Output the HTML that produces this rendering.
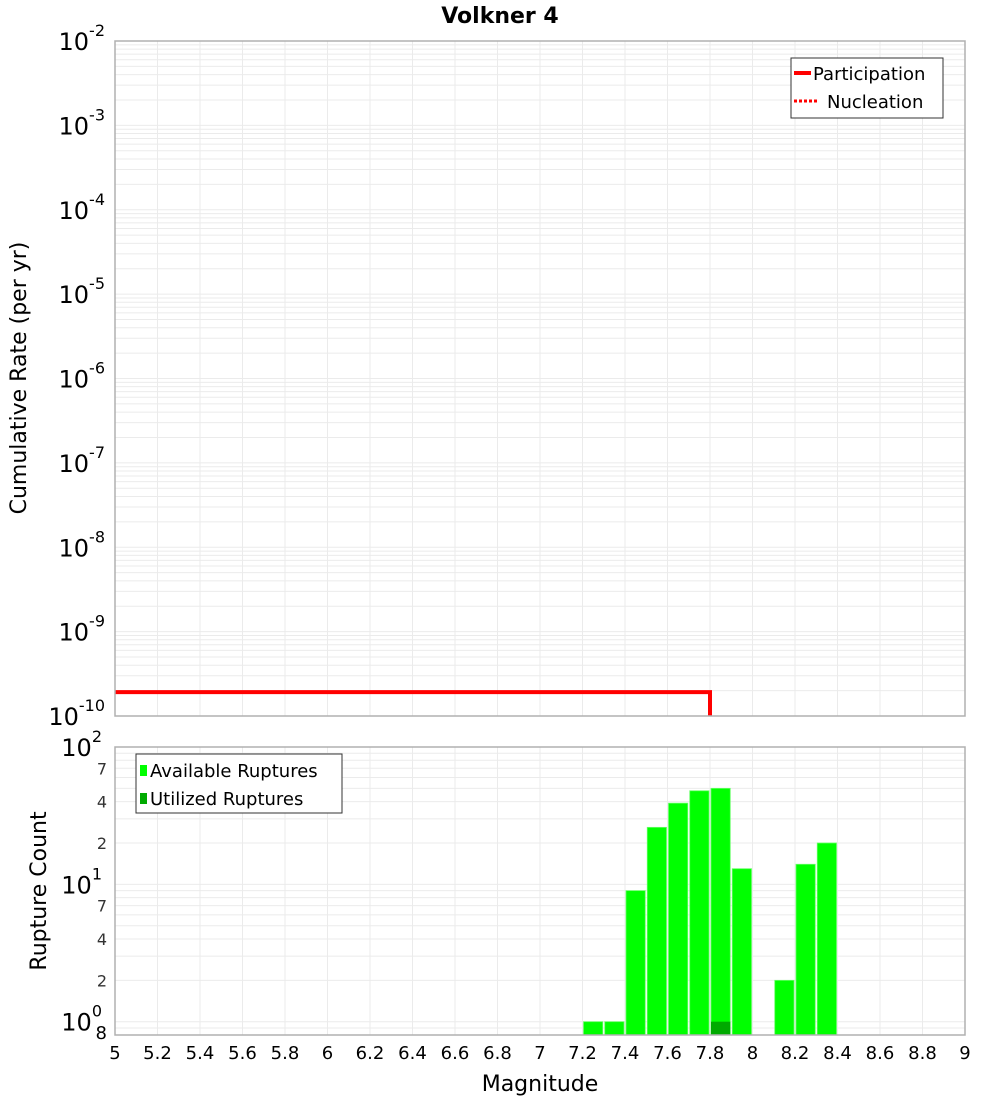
<!DOCTYPE html>
<html><head><meta charset="utf-8"><style>
body{margin:0;background:#fff;}
svg{display:block;font-family:"DejaVu Sans","Liberation Sans",sans-serif;}
</style></head><body>
<svg id="c" width="1000" height="1100" xmlns="http://www.w3.org/2000/svg"></svg>
<script>
const xTicks=[5,5.2,5.4,5.6,5.8,6,6.2,6.4,6.6,6.8,7,7.2,7.4,7.6,7.8,8,8.2,8.4,8.6,8.8,9];
const topDecades=[-2,-3,-4,-5,-6,-7,-8,-9,-10];
const partMags=[5,7.8,7.8];
const partRates=[1.92e-10,1.92e-10,1e-11];
const binMags=[7.25,7.35,7.45,7.55,7.65,7.75,7.85,7.95,8.15,8.25,8.35];
const availCounts=[1,1,9,26,39,48,50,13,2,14,20];
const utilMags=[7.85];
const utilCounts=[1];
const botDecades=[2,1,0];
const botMinorLabels=[2,4,7];

const NS="http://www.w3.org/2000/svg";
const svg=document.getElementById('c');
function el(t,a,p){const e=document.createElementNS(NS,t);for(const k in a)e.setAttribute(k,a[k]);(p||svg).appendChild(e);return e;}
const X0=115,X1=965;
const xs=m=>X0+(m-5)/4*(X1-X0);
const T0=41,T1=716;
const yt=v=>T0+(-2-Math.log10(v))/8*(T1-T0);
const B0=747,B1=1035;
const lo=Math.log10(0.8);
const yb=v=>B0+(2-Math.log10(v))/(2-lo)*(B1-B0);

// title
const tt=el('text',{x:500,y:23,'text-anchor':'middle','font-size':22,'font-weight':'bold'});tt.textContent='Volkner 4';


// top grid
const gT=el('g',{stroke:'#ebebeb','stroke-width':1});

for(let d=-10;d<-2;d++)for(let k=1;k<10;k++){const y=yt(k*Math.pow(10,d));el('line',{x1:X0,x2:X1,y1:y,y2:y},gT);}
xTicks.forEach(m=>el('line',{x1:xs(m),x2:xs(m),y1:T0,y2:T1},gT));
// bottom grid
const gB=el('g',{stroke:'#ebebeb','stroke-width':1});

for(let d=-1;d<2;d++)for(let k=1;k<10;k++){const v=k*Math.pow(10,d);if(v<0.8)continue;const y=yb(v);el('line',{x1:X0,x2:X1,y1:y,y2:y},gB);}
xTicks.forEach(m=>el('line',{x1:xs(m),x2:xs(m),y1:B0,y2:B1},gB));

// participation line
const pts=partMags.map((m,i)=>xs(m)+','+Math.min(yt(partRates[i]),T1)).join(' ');
const pl=el('polyline',{points:pts,fill:'none',stroke:'#ff0000','stroke-width':4});


// bars
const bw=(X1-X0)/40;
binMags.forEach((m,i)=>{const y=yb(availCounts[i]);const r=el('rect',{x:xs(m-0.05)+1,y:y,width:bw-2,height:B1-y,fill:'#00ff00',stroke:'#66ff66','stroke-width':0.8});
});
utilMags.forEach((m,i)=>{const y=yb(utilCounts[i]);const r=el('rect',{x:xs(m-0.05)+1,y:y,width:bw-2,height:B1-y,fill:'#00aa00'});
});

// frames
const f1=el('rect',{x:X0,y:T0,width:X1-X0,height:T1-T0,fill:'none',stroke:'#b0b0b0','stroke-width':1.5});

const f2=el('rect',{x:X0,y:B0,width:X1-X0,height:B1-B0,fill:'none',stroke:'#b0b0b0','stroke-width':1.5});


// top y labels
topDecades.forEach(d=>{const y=yt(Math.pow(10,d));const t=el('text',{x:105,y:y+9,'text-anchor':'end','font-size':24});

t.textContent='10';const s=el('tspan',{dy:-14,'font-size':16},t);s.textContent=String(d);});
// bottom y labels
botDecades.forEach(d=>{const y=yb(Math.pow(10,d));const t=el('text',{x:102,y:y+9,'text-anchor':'end','font-size':24});

t.textContent='10';const s=el('tspan',{dy:-14,'font-size':16},t);s.textContent=String(d);});
[0,1].forEach(d=>botMinorLabels.forEach(k=>{const y=yb(k*Math.pow(10,d));const t=el('text',{x:107,y:y+6,'text-anchor':'end','font-size':16,fill:'#333'});
t.textContent=k;}));
{const t=el('text',{x:107,y:yb(0.8)+4,'text-anchor':'end','font-size':18});t.textContent='8';
}

// x labels
xTicks.forEach(m=>{const t=el('text',{x:xs(m),y:1059,'text-anchor':'middle','font-size':18});t.textContent=String(m);
});
const xl=el('text',{x:540,y:1091,'text-anchor':'middle','font-size':22});xl.textContent='Magnitude';

const yl1=el('text',{x:0,y:0,'text-anchor':'middle','font-size':22,transform:'translate(26,378) rotate(-90)'});yl1.textContent='Cumulative Rate (per yr)';

const yl2=el('text',{x:0,y:0,'text-anchor':'middle','font-size':22,transform:'translate(46,891) rotate(-90)'});yl2.textContent='Rupture Count';


// legends
const lg1=el('g',{});
el('rect',{x:791,y:58,width:152,height:60,fill:'#fff',stroke:'#333','stroke-width':1},lg1);
el('line',{x1:794,x2:811,y1:73,y2:73,stroke:'#f00','stroke-width':4},lg1);
el('line',{x1:794,x2:819,y1:101,y2:101,stroke:'#f00','stroke-width':3,'stroke-dasharray':'3,2'},lg1);
let t=el('text',{x:813,y:80,'font-size':18},lg1);t.textContent='Participation';

t=el('text',{x:827,y:108,'font-size':18},lg1);t.textContent='Nucleation';

const lg2=el('g',{});
el('rect',{x:136,y:754,width:206,height:59,fill:'#fff',stroke:'#333','stroke-width':1},lg2);
el('rect',{x:140,y:765,width:7,height:11,fill:'#00ff00'},lg2);
el('rect',{x:140,y:793,width:7,height:11,fill:'#00aa00'},lg2);
t=el('text',{x:150,y:777,'font-size':18},lg2);t.textContent='Available Ruptures';

t=el('text',{x:150,y:805,'font-size':18},lg2);t.textContent='Utilized Ruptures';

</script>
</body></html>
